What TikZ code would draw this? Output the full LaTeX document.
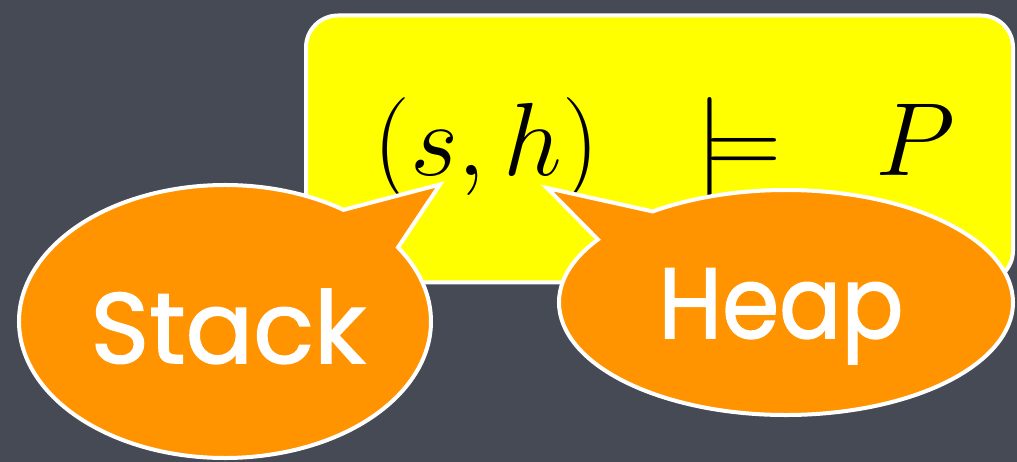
\RequirePackage{fix-cm}
\documentclass[tikz,border=0pt]{standalone}
\usepackage{fontspec}
\newfontfamily\bubblefont[FakeBold=1.5]{Poppins}
\usetikzlibrary{shapes.callouts}
\definecolor{bg}{RGB}{70,74,85}
\definecolor{boxyellow}{RGB}{255,255,0}
\definecolor{bubbleorange}{RGB}{255,148,0}
\begin{document}
\begin{tikzpicture}[x=1pt,y=-1pt,
  bubble/.style={ellipse callout, draw=white, line width=4pt, fill=bubbleorange, inner sep=0pt, outer sep=0pt},
  bubbletext/.style={font=\bubblefont\fontsize{100}{100}\selectfont, text=white, anchor=base, inner sep=0pt},
  formulabox/.style={draw=white, line width=4pt, fill=boxyellow, rounded corners=32pt, inner sep=0pt, outer sep=0pt, anchor=north west}]
\useasboundingbox (0,0) rectangle (1017,462);
\fill[bg] (0,0) rectangle (1017,462);
\node[formulabox, minimum width=707pt, minimum height=267pt] (box) at (306,15.5) {};
\node[anchor=base west, inner sep=0pt, font=\fontsize{104}{120}\selectfont] (formula) at (373,176) {$(s,h)\hskip96pt{\models}\hskip94pt P$};
\coordinate (stacktip) at (440,184.5);
\coordinate (heaptip) at (547,188);
\node[bubble, minimum width=412pt, minimum height=273pt, callout absolute pointer={(stacktip)}, callout pointer arc=22] (stackb) at (225,321.5) {};
\node[bubble, minimum width=454pt, minimum height=225pt, callout absolute pointer={(heaptip)}, callout pointer arc=20] (heapb) at (786,302.5) {};
\node[bubbletext] (stackt) at (228,363) {Stack};
\node[bubbletext] (heapt) at (781,338) {\scalebox{0.92}[1]{Heap}};
\end{tikzpicture}
\end{document}
